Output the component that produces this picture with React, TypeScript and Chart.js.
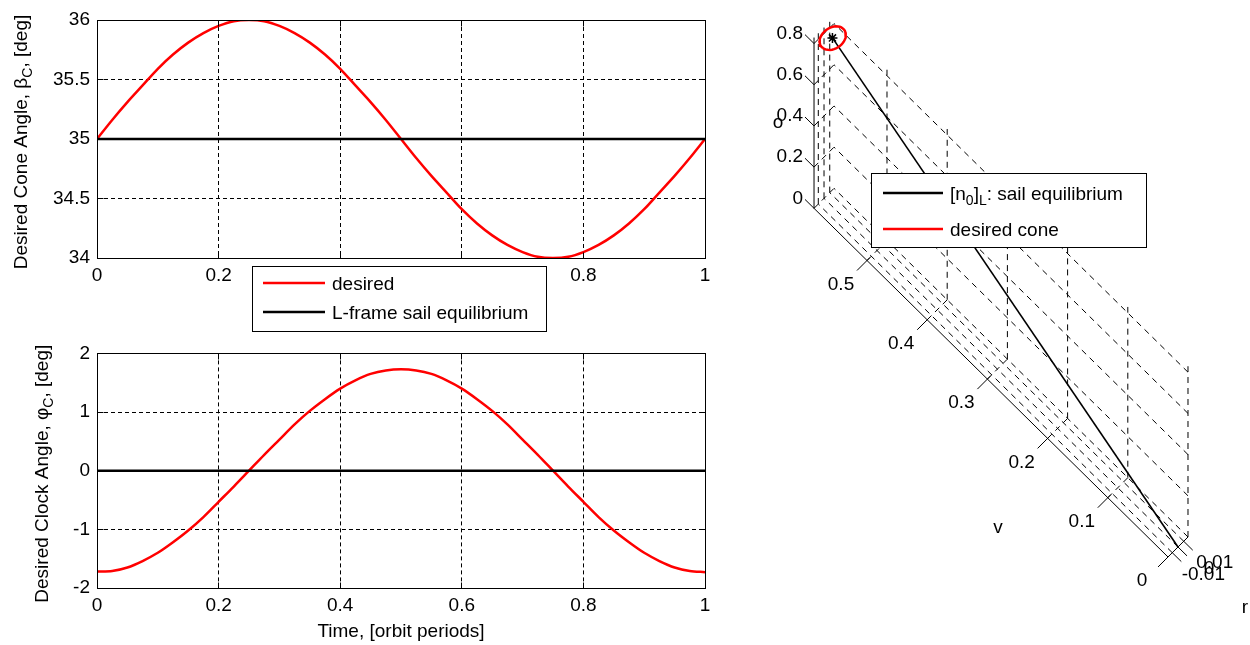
import React, { useEffect, useRef } from "react";
import { Chart, registerables } from "chart.js";

Chart.register(...registerables);

const FONT = '"Liberation Sans", Arial, sans-serif';
const FS = 19;
const SUBFS = 14;

// ---------------- data ----------------
const timePeriods = [
  0, 0.025, 0.05, 0.075, 0.1, 0.125, 0.15, 0.175, 0.2, 0.225, 0.25, 0.275, 0.3, 0.325, 0.35,
  0.375, 0.4, 0.425, 0.45, 0.475, 0.5, 0.525, 0.55, 0.575, 0.6, 0.625, 0.65, 0.675, 0.7, 0.725,
  0.75, 0.775, 0.8, 0.825, 0.85, 0.875, 0.9, 0.925, 0.95, 0.975, 1,
];
const coneDesiredDeg = [
  35.0, 35.16, 35.31, 35.45, 35.59, 35.71, 35.81, 35.89, 35.95, 35.99, 36.0, 35.99, 35.95, 35.89,
  35.81, 35.71, 35.59, 35.45, 35.31, 35.16, 35.0, 34.84, 34.69, 34.55, 34.41, 34.29, 34.19, 34.11,
  34.05, 34.01, 34.0, 34.01, 34.05, 34.11, 34.19, 34.29, 34.41, 34.55, 34.69, 34.84, 35.0,
];
const clockDesiredDeg = [
  -1.72, -1.71, -1.65, -1.54, -1.4, -1.22, -1.02, -0.79, -0.53, -0.27, 0.0, 0.27, 0.53, 0.79, 1.02,
  1.22, 1.4, 1.54, 1.65, 1.71, 1.73, 1.71, 1.65, 1.54, 1.4, 1.22, 1.02, 0.79, 0.53, 0.27, 0.0,
  -0.27, -0.53, -0.79, -1.02, -1.22, -1.4, -1.54, -1.65, -1.71, -1.73,
];
const coneEquilibriumDeg = 35;
const clockEquilibriumDeg = 0;

const timeTicks = [0, 0.2, 0.4, 0.6, 0.8, 1];
const coneTicks = [34, 34.5, 35, 35.5, 36];
const clockTicks = [-2, -1, 0, 1, 2];

// 3-D view of the sail normal in the L frame (r, v, o components)
const rLimits = [-0.0175, 0.0175];
const vLimits = [0, 0.588];
const oLimits = [0, 0.829];
const rTicks = [-0.01, 0, 0.01];
const vTicks = [0, 0.1, 0.2, 0.3, 0.4, 0.5];
const oTicks = [0, 0.2, 0.4, 0.6, 0.8];
const equilibriumStart = [0, 0, 0];
const equilibriumEnd = [0, 0.574, 0.819];

// ---------------- helpers ----------------
type Seg = { t: string; sub?: boolean };
const mainFont = `${FS}px ${FONT}`;
const subFont = `${SUBFS}px ${FONT}`;

function richWidth(ctx: CanvasRenderingContext2D, segs: Seg[]) {
  let w = 0;
  for (const s of segs) {
    ctx.font = s.sub ? subFont : mainFont;
    w += ctx.measureText(s.t).width;
  }
  return w;
}
function drawRich(ctx: CanvasRenderingContext2D, segs: Seg[], x: number, baseY: number, center: boolean) {
  const w = richWidth(ctx, segs);
  let cx = center ? x - w / 2 : x;
  ctx.textAlign = "left";
  ctx.textBaseline = "alphabetic";
  ctx.fillStyle = "#000";
  for (const s of segs) {
    ctx.font = s.sub ? subFont : mainFont;
    ctx.fillText(s.t, cx, s.sub ? baseY + 5 : baseY);
    cx += ctx.measureText(s.t).width;
  }
}
const al = (p: number) => Math.round(p - 0.5) + 0.5;

function line(ctx: CanvasRenderingContext2D, x1: number, y1: number, x2: number, y2: number) {
  ctx.beginPath();
  ctx.moveTo(x1, y1);
  ctx.lineTo(x2, y2);
  ctx.stroke();
}

type LegendItem = { color: string; label: Seg[] };
function drawLegend(
  ctx: CanvasRenderingContext2D,
  box: { l: number; t: number; r: number; b: number },
  items: LegendItem[],
  rowY: number[],
  lineX: [number, number],
  textX: number
) {
  ctx.save();
  ctx.fillStyle = "#fff";
  ctx.fillRect(box.l, box.t, box.r - box.l, box.b - box.t);
  ctx.strokeStyle = "#000";
  ctx.lineWidth = 1;
  ctx.setLineDash([]);
  ctx.strokeRect(al(box.l), al(box.t), al(box.r) - al(box.l), al(box.b) - al(box.t));
  items.forEach((it, i) => {
    ctx.strokeStyle = it.color;
    ctx.lineWidth = 2.5;
    line(ctx, lineX[0], rowY[i], lineX[1], rowY[i]);
    drawRich(ctx, it.label, textX, rowY[i] + 7, false);
  });
  ctx.restore();
}

// ---------------- 2-D panels ----------------
function panelConfig(p: {
  desired: number[];
  equilibrium: number;
  yMin: number;
  yMax: number;
  yTicks: number[];
  padTop: number;
  padBottom: number;
  yTitle: Seg[];
  yTitleX: number;
  xTitle?: string;
  xTitleY?: number;
  legend?: boolean;
}): any {
  const panelPlugin = {
    id: "panel",
    afterDatasetsDraw(chart: any) {
      const { ctx, chartArea: a } = chart;
      const xs = chart.scales.x;
      const ys = chart.scales.y;
      ctx.save();
      ctx.setLineDash([]);
      ctx.strokeStyle = "#000";
      ctx.lineWidth = 1;
      const L = al(a.left), R = al(a.right), T = al(a.top), B = al(a.bottom);
      ctx.strokeRect(L, T, R - L, B - T);
      const tl = 6;
      for (const v of timeTicks) {
        const x = al(xs.getPixelForValue(v));
        line(ctx, x, B, x, B - tl);
        line(ctx, x, T, x, T + tl);
      }
      for (const v of p.yTicks) {
        const y = al(ys.getPixelForValue(v));
        line(ctx, L, y, L + tl, y);
        line(ctx, R, y, R - tl, y);
      }
      // y title (rotated)
      ctx.save();
      ctx.translate(p.yTitleX, (a.top + a.bottom) / 2 + 3);
      ctx.rotate(-Math.PI / 2);
      drawRich(ctx, p.yTitle, 0, 0, true);
      ctx.restore();
      if (p.xTitle) {
        ctx.font = mainFont;
        ctx.fillStyle = "#000";
        ctx.textAlign = "center";
        ctx.textBaseline = "middle";
        ctx.fillText(p.xTitle, (a.left + a.right) / 2, p.xTitleY as number);
      }
      ctx.restore();
    },
    afterDraw(chart: any) {
      if (!p.legend) return;
      drawLegend(
        chart.ctx,
        { l: 252, t: 266, r: 546, b: 331 },
        [
          { color: "#ff0000", label: [{ t: "desired" }] },
          { color: "#000000", label: [{ t: "L-frame sail equilibrium" }] },
        ],
        [283, 312],
        [263, 325],
        332
      );
    },
  };

  const tickFont = { family: FONT, size: FS };
  return {
    type: "scatter",
    data: {
      datasets: [
        {
          label: "desired",
          data: timePeriods.map((t, i) => ({ x: t, y: p.desired[i] })),
          showLine: true,
          borderColor: "#ff0000",
          borderWidth: 2.5,
          pointRadius: 0,
          tension: 0.3,
          order: 0,
        },
        {
          label: "L-frame sail equilibrium",
          data: [
            { x: timePeriods[0], y: p.equilibrium },
            { x: timePeriods[timePeriods.length - 1], y: p.equilibrium },
          ],
          showLine: true,
          borderColor: "#000000",
          borderWidth: 2.5,
          pointRadius: 0,
          order: -1,
        },
      ],
    },
    options: {
      animation: false,
      responsive: false,
      devicePixelRatio: 1,
      events: [],
      layout: { autoPadding: false, padding: { left: 0, top: p.padTop, right: 55, bottom: p.padBottom } },
      plugins: { legend: { display: false }, tooltip: { enabled: false } },
      scales: {
        x: {
          type: "linear",
          min: 0,
          max: 1,
          afterBuildTicks: (s: any) => {
            s.ticks = timeTicks.map((v) => ({ value: v }));
          },
          afterFit: (s: any) => {
            s.height = 40;
          },
          grid: { color: "#000", lineWidth: 1, drawTicks: false },
          border: { display: false, dash: [4, 3] },
          ticks: {
            color: "#000",
            font: tickFont,
            padding: 6,
            maxRotation: 0,
            autoSkip: false,
            callback: (v: any) => String(v),
          },
        },
        y: {
          type: "linear",
          min: p.yMin,
          max: p.yMax,
          afterBuildTicks: (s: any) => {
            s.ticks = p.yTicks.map((v) => ({ value: v }));
          },
          afterFit: (s: any) => {
            s.width = 97;
          },
          grid: { color: "#000", lineWidth: 1, drawTicks: false },
          border: { display: false, dash: [4, 3] },
          ticks: {
            color: "#000",
            font: tickFont,
            padding: 7,
            autoSkip: false,
            callback: (v: any) => String(v),
          },
        },
      },
    },
    plugins: [panelPlugin],
  };
}

// ---------------- 3-D panel ----------------
const VIEW = { rx: 571.4, ry: 571.4, vx: -602, vy: 593, oy: 206 };
type Pt = { x: number; y: number | null };
function P(r: number, v: number, o: number): Pt {
  return { x: VIEW.rx * r + VIEW.vx * v, y: VIEW.ry * r + VIEW.vy * v + VIEW.oy * o };
}

function sideConfig(): any {
  const [R0, R1] = rLimits;
  const [V0, V1] = vLimits;
  const [O0, O1] = oLimits;
  const grid: Pt[] = [];
  const solid: Pt[] = [];
  const seg = (list: Pt[], a: number[], b: number[]) => {
    list.push(P(a[0], a[1], a[2]), P(b[0], b[1], b[2]), { x: 0, y: null });
  };
  // back wall r = R1
  oTicks.forEach((o) => seg(grid, [R1, V0, o], [R1, V1, o]));
  vTicks.forEach((v) => seg(grid, [R1, v, O0], [R1, v, O1]));
  // side wall v = V1
  oTicks.forEach((o) => seg(grid, [R0, V1, o], [R1, V1, o]));
  rTicks.forEach((r) => seg(grid, [r, V1, O0], [r, V1, O1]));
  // floor o = 0
  rTicks.forEach((r) => seg(grid, [r, V0, O0], [r, V1, O0]));
  vTicks.forEach((v) => seg(grid, [R0, v, O0], [R1, v, O0]));

  // axes
  seg(solid, [R0, V1, O0], [R0, V1, O1]);
  seg(solid, [R0, V0, O0], [R0, V1, O0]);
  seg(solid, [R0, V0, O0], [R1, V0, O0]);
  const oTickLen = 0.015;
  const vTickOut = 0.0175;
  const vTickIn = 0.005;
  const rTickLen = 0.015;
  oTicks.forEach((o) => seg(solid, [R0, V1, o], [R0, V1 + oTickLen, o]));
  vTicks.forEach((v) => seg(solid, [R0 - vTickOut, v, O0], [R0 + vTickIn, v, O0]));
  rTicks.forEach((r) => seg(solid, [r, V0, O0], [r, V0 - rTickLen, O0]));

  const eq = [
    P(equilibriumStart[0], equilibriumStart[1], equilibriumStart[2]),
    P(equilibriumEnd[0], equilibriumEnd[1], equilibriumEnd[2]),
  ];
  const cone = coneDesiredDeg.map((bDeg, i) => {
    const b = (bDeg * Math.PI) / 180;
    const f = (clockDesiredDeg[i] * Math.PI) / 180;
    return P(Math.sin(b) * Math.sin(f), Math.sin(b) * Math.cos(f), Math.cos(b));
  });

  const labelsPlugin = {
    id: "labels3d",
    afterDatasetsDraw(chart: any) {
      const { ctx } = chart;
      const xs = chart.scales.x;
      const ys = chart.scales.y;
      const px = (p: Pt) => [xs.getPixelForValue(p.x), ys.getPixelForValue(p.y)];
      ctx.save();
      ctx.font = mainFont;
      ctx.fillStyle = "#000";
      ctx.textBaseline = "middle";
      ctx.textAlign = "right";
      oTicks.forEach((o) => {
        const [x, y] = px(P(R0, V1 + oTickLen, o));
        ctx.fillText(String(o), x - 2, y - 1);
      });
      ctx.textAlign = "center";
      vTicks.forEach((v) => {
        const [x, y] = px(P(R0 - vTickOut, v, O0));
        ctx.fillText(String(v), x - 16, y + 14);
      });
      rTicks.forEach((r) => {
        const [x, y] = px(P(r, V0 - rTickLen, O0));
        ctx.fillText(String(r), x + 22, y + 13);
      });
      // axis titles
      let [x, y] = px(P(R0, V1, (O0 + O1) / 2));
      ctx.fillText("o", x - 36, y);
      [x, y] = px(P(R0, (V0 + V1) / 2, O0));
      ctx.fillText("v", x + 7, y + 145);
      [x, y] = px(P(0, V0, O0));
      ctx.fillText("r", x + 67, y + 61);
      ctx.restore();
    },
    afterDraw(chart: any) {
      drawLegend(
        chart.ctx,
        { l: 111, t: 173, r: 386, b: 247 },
        [
          {
            color: "#000000",
            label: [{ t: "[n" }, { t: "0", sub: true }, { t: "]" }, { t: "L", sub: true }, { t: ": sail equilibrium" }],
          },
          { color: "#ff0000", label: [{ t: "desired cone" }] },
        ],
        [193, 229],
        [123, 183],
        190
      );
    },
  };

  const lineDs = (data: Pt[], color: string, width: number, dash: number[] = []) => ({
    data,
    showLine: true,
    borderColor: color,
    borderWidth: width,
    borderDash: dash,
    pointRadius: 0,
    spanGaps: false,
  });

  return {
    type: "scatter",
    data: {
      datasets: [
        { ...lineDs(cone, "#ff0000", 2.5), order: 0 },
        {
          data: [eq[1]],
          showLine: false,
          pointStyle: "star",
          pointRadius: 5,
          borderColor: "#000",
          borderWidth: 1.5,
          order: 1,
        },
        { ...lineDs(eq, "#000", 1.6), order: 2 },
        { ...lineDs(solid, "#000", 1), order: 3 },
        { ...lineDs(grid, "#000", 1, [6, 5]), order: 4 },
      ],
    },
    options: {
      animation: false,
      responsive: false,
      devicePixelRatio: 1,
      events: [],
      layout: { autoPadding: false, padding: 0 },
      plugins: { legend: { display: false }, tooltip: { enabled: false } },
      scales: {
        x: { type: "linear", display: false, min: -418, max: 72 },
        y: { type: "linear", display: false, min: -98, max: 547 },
      },
    },
    plugins: [labelsPlugin],
  };
}

export default function App() {
  const topRef = useRef<HTMLCanvasElement>(null);
  const botRef = useRef<HTMLCanvasElement>(null);
  const sideRef = useRef<HTMLCanvasElement>(null);

  useEffect(() => {
    const charts = [
      new Chart(
        topRef.current as HTMLCanvasElement,
        panelConfig({
          desired: coneDesiredDeg,
          equilibrium: coneEquilibriumDeg,
          yMin: 34,
          yMax: 36,
          yTicks: coneTicks,
          padTop: 20,
          padBottom: 42,
          yTitle: [{ t: "Desired Cone Angle, β" }, { t: "C", sub: true }, { t: ", [deg]" }],
          yTitleX: 27,
          legend: true,
        })
      ),
      new Chart(
        botRef.current as HTMLCanvasElement,
        panelConfig({
          desired: clockDesiredDeg,
          equilibrium: clockEquilibriumDeg,
          yMin: -2,
          yMax: 2,
          yTicks: clockTicks,
          padTop: 15,
          padBottom: 17,
          yTitle: [{ t: "Desired Clock Angle, φ" }, { t: "C", sub: true }, { t: ", [deg]" }],
          yTitleX: 48,
          xTitle: "Time, [orbit periods]",
          xTitleY: 297,
        })
      ),
      new Chart(sideRef.current as HTMLCanvasElement, sideConfig()),
    ];
    return () => charts.forEach((c) => c.destroy());
  }, []);

  return (
    <div
      style={{
        position: "absolute",
        left: 0,
        top: 0,
        width: 1250,
        height: 645,
        background: "#fff",
        overflow: "hidden",
      }}
    >
      <canvas ref={topRef} width={760} height={340} style={{ position: "absolute", left: 0, top: 0 }} />
      <canvas ref={botRef} width={760} height={310} style={{ position: "absolute", left: 0, top: 335 }} />
      <canvas ref={sideRef} width={490} height={645} style={{ position: "absolute", left: 760, top: 0 }} />
    </div>
  );
}
